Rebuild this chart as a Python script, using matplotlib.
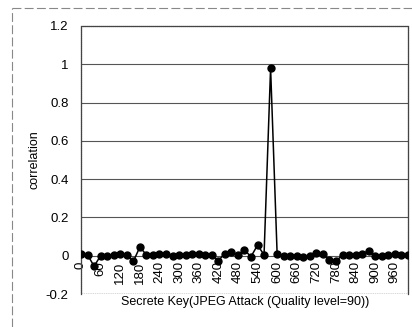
import matplotlib
matplotlib.use("Agg")
import matplotlib.pyplot as plt
from matplotlib.ticker import FuncFormatter
from matplotlib.lines import Line2D

plt.rcParams['font.family'] = ['Liberation Sans', 'DejaVu Sans']

# secret keys tested (0..1000 step 20) and the correlation
keys = list(range(0, 1001, 20))
correlation = [
    0.01, 0.005, -0.055, 0.0, 0.0, 0.005, 0.01, 0.005, -0.03, 0.045,
    0.005, 0.005, 0.008, 0.01, 0.0, 0.005, 0.005, 0.008, 0.008, 0.005,
    0.005, -0.025, 0.01, 0.02, 0.005, 0.03, -0.005, 0.055, 0.005, 0.98,
    0.01, 0.0, 0.0, 0.0, -0.005, 0.0, 0.015, 0.01, -0.02, -0.03,
    0.005, 0.005, 0.005, 0.01, 0.025, 0.0, 0.0, 0.005, 0.01, 0.005,
    0.005,
]
x_ticks = list(range(0, 961, 60))
y_ticks = [-0.2, 0, 0.2, 0.4, 0.6, 0.8, 1, 1.2]

fig = plt.figure(figsize=(4.12, 3.27), dpi=100)
ax = fig.add_axes([0.1966, 0.1009, 0.7934, 0.8196])

for y in y_ticks[1:-1]:
    ax.axhline(y, color='#555555', lw=0.8, zorder=1)

ax.plot(keys, correlation, color='black', lw=1.1, marker='o', markersize=5,
        zorder=3)

# category axis crosses at zero, labels sit inside the plot area
ax.spines['bottom'].set_position(('data', 0))
ax.spines['bottom'].set_visible(False)
ax.axhline(-0.2, color='#444444', lw=1.0, ls=(0, (1, 0.6)), zorder=2)
for side in ['top', 'left', 'right']:
    ax.spines[side].set_color('#444444')
    ax.spines[side].set_linewidth(0.9)
    ax.spines[side].set_linestyle((0, (1, 0.6)))

ax.set_xlim(0, 1000)
ax.set_ylim(-0.2, 1.2)
ax.set_yticks(y_ticks)
ax.yaxis.set_major_formatter(FuncFormatter(lambda v, p: '%g' % round(v, 1)))
ax.set_xticks(x_ticks)
ax.set_xticklabels([str(t) for t in x_ticks], rotation=90, va='top')

ax.tick_params(axis='x', length=0, pad=4, labelsize=9.5)
ax.tick_params(axis='y', length=0, pad=9, labelsize=9.5)

ax.set_ylabel('correlation', fontsize=9, labelpad=4)
fig.text(0.595, 0.075, 'Secrete Key(JPEG Attack (Quality level=90))',
         ha='center', va='center', fontsize=9)

# scanned chart-area border (top and left)
fig.add_artist(Line2D([0.029, 1.0], [0.976, 0.976], color='#888888', lw=0.8,
                      ls=(0, (8, 3))))
fig.add_artist(Line2D([0.029, 0.029], [0.0, 0.976], color='#888888', lw=0.8,
                      ls=(0, (8, 3))))

fig.savefig('out.png', dpi=100)
